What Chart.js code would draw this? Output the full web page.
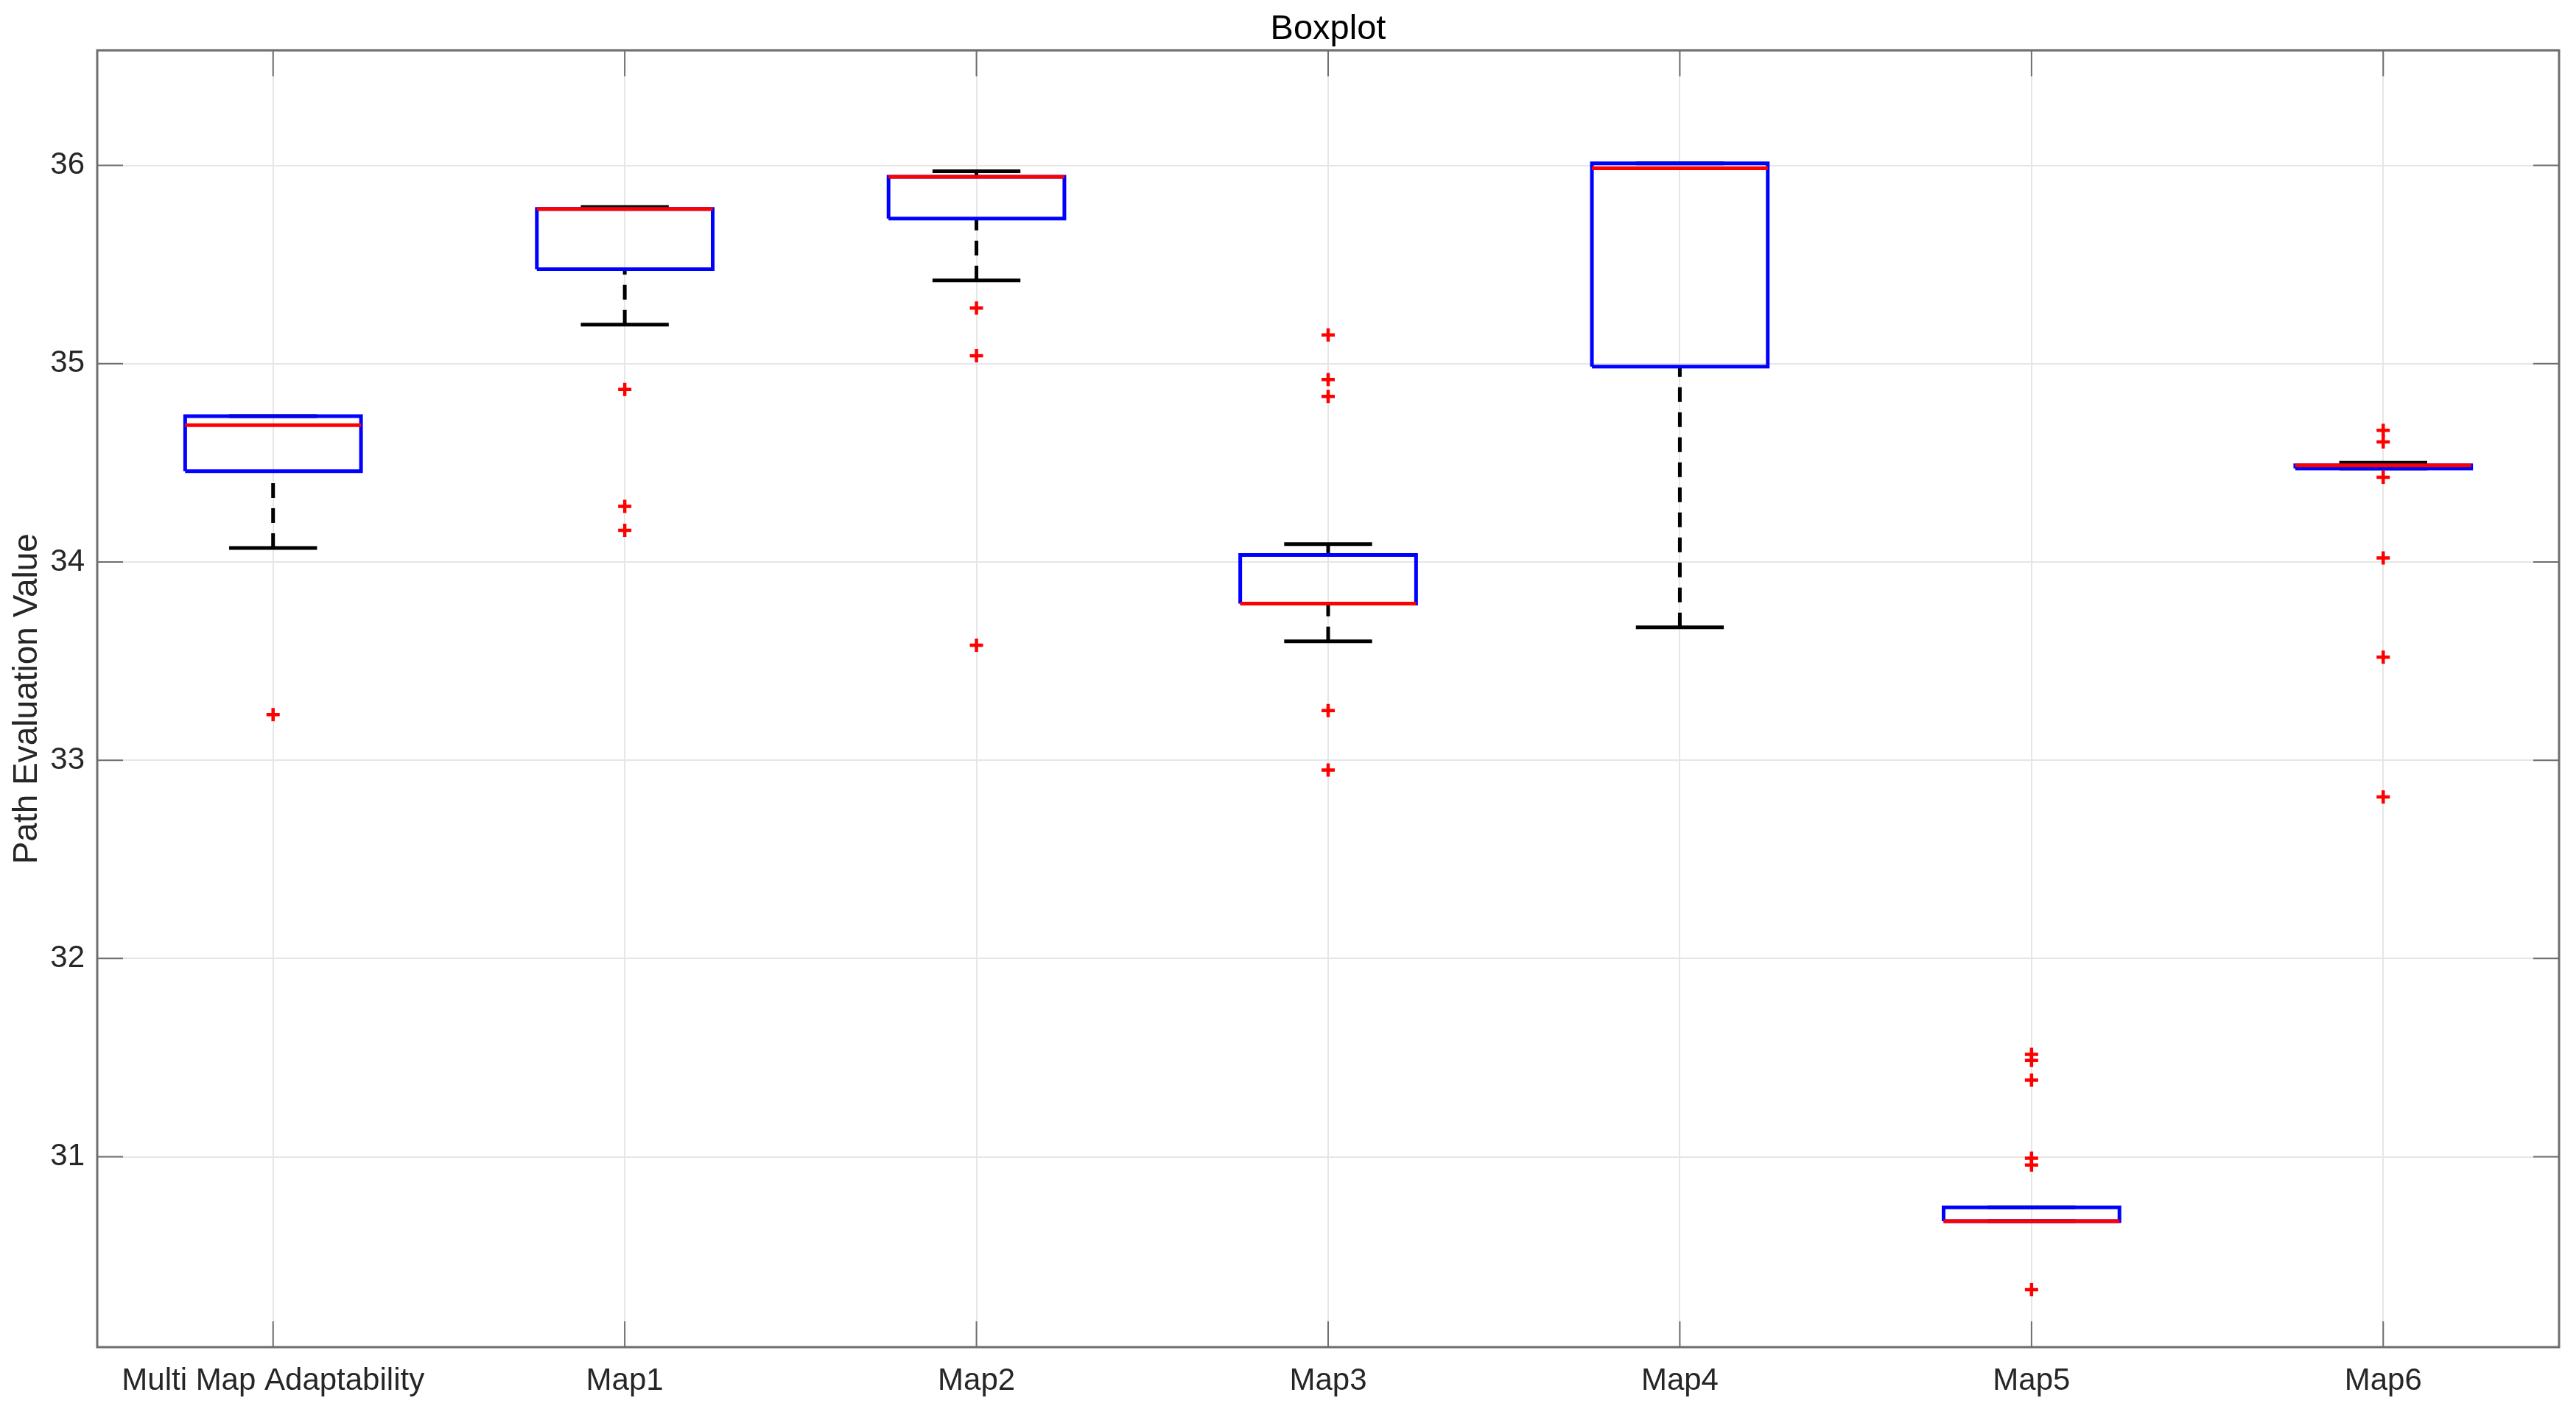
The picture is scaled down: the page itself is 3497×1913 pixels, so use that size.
<!DOCTYPE html>
<html>
<head>
<meta charset="utf-8">
<title>Boxplot</title>
<style>
  html, body { margin: 0; padding: 0; background: #fff; }
  canvas { display: block; }
</style>
<script src="https://cdn.jsdelivr.net/npm/chart.js@4"></script>
</head>
<body>
<canvas id="boxChart" width="3497" height="1913"></canvas>
<script>
const categories = ["Multi Map Adaptability", "Map1", "Map2", "Map3", "Map4", "Map5", "Map6"]
const yTicks = [31, 32, 33, 34, 35, 36]

const q1 = [34.458, 35.476, 35.732, 33.79, 34.985, 30.675, 34.472]
const median = [34.69, 35.78, 35.943, 33.79, 35.985, 30.675, 34.487]
const q3 = [34.735, 35.78, 35.943, 34.035, 36.01, 30.745, 34.487]
const lowerWhisker = [34.07, 35.197, 35.42, 33.6, 33.67, 30.675, 34.472]
const upperWhisker = [34.735, 35.79, 35.97, 34.09, 36.01, 30.745, 34.5]
const outliers = [
  [33.23],
  [34.87, 34.28, 34.16],
  [35.28, 35.04, 33.58],
  [35.145, 34.92, 34.835, 33.25, 32.95],
  [],
  [31.517, 31.486, 31.387, 30.993, 30.958, 30.33],
  [34.664, 34.605, 34.427, 34.02, 33.52, 32.815]
]

const boxHalf = 0.25
const capHalf = 0.125
const axisColor = "#6e6e6e"
const textColor = "#262626"

// x position of category i on the linear axis
const pos = i => i + 1
const gap = x => ({ x: x, y: null })

const boxPoints = categories.flatMap((c, i) => [
  { x: pos(i) - boxHalf, y: q1[i] },
  { x: pos(i) + boxHalf, y: q1[i] },
  { x: pos(i) + boxHalf, y: q3[i] },
  { x: pos(i) - boxHalf, y: q3[i] },
  { x: pos(i) - boxHalf, y: q1[i] },
  gap(pos(i))
])
const medianPoints = categories.flatMap((c, i) => [
  { x: pos(i) - boxHalf, y: median[i] },
  { x: pos(i) + boxHalf, y: median[i] },
  gap(pos(i))
])
const whiskerPoints = categories.flatMap((c, i) => [
  { x: pos(i), y: lowerWhisker[i] },
  { x: pos(i), y: q1[i] },
  gap(pos(i)),
  { x: pos(i), y: upperWhisker[i] },
  { x: pos(i), y: q3[i] },
  gap(pos(i))
])
const capPoints = categories.flatMap((c, i) => [
  { x: pos(i) - capHalf, y: lowerWhisker[i] },
  { x: pos(i) + capHalf, y: lowerWhisker[i] },
  gap(pos(i)),
  { x: pos(i) - capHalf, y: upperWhisker[i] },
  { x: pos(i) + capHalf, y: upperWhisker[i] },
  gap(pos(i))
])
const outlierPoints = categories.flatMap((c, i) => outliers[i].map(v => ({ x: pos(i), y: v })))

// MATLAB style frame with ticks pointing inwards
const frame = {
  id: "frame",
  afterDatasetsDraw(chart) {
    const { ctx, chartArea: a, scales } = chart
    const len = 35
    ctx.save()
    ctx.strokeStyle = axisColor
    ctx.lineWidth = 2
    ctx.beginPath()
    scales.x.ticks.forEach(t => {
      const px = scales.x.getPixelForValue(t.value)
      ctx.moveTo(px, a.bottom); ctx.lineTo(px, a.bottom - len)
      ctx.moveTo(px, a.top); ctx.lineTo(px, a.top + len)
    })
    scales.y.ticks.forEach(t => {
      const py = scales.y.getPixelForValue(t.value)
      ctx.moveTo(a.left, py); ctx.lineTo(a.left + len, py)
      ctx.moveTo(a.right, py); ctx.lineTo(a.right - len, py)
    })
    ctx.stroke()
    ctx.lineWidth = 3
    ctx.strokeRect(a.left, a.top, a.right - a.left, a.bottom - a.top)
    ctx.restore()
  }
}

new Chart(document.getElementById("boxChart"), {
  type: "scatter",
  plugins: [frame],
  data: {
    datasets: [
      { label: "Outliers", data: outlierPoints, order: 1, showLine: false, pointStyle: "cross", pointRadius: 9, pointBorderWidth: 4.5, pointBorderColor: "#ff0000" },
      { label: "Median", data: medianPoints, order: 2, showLine: true, pointRadius: 0, borderColor: "#ff0000", borderWidth: 5 },
      { label: "Box", data: boxPoints, order: 3, showLine: true, pointRadius: 0, borderColor: "#0000ff", borderWidth: 5 },
      { label: "Caps", data: capPoints, order: 4, showLine: true, pointRadius: 0, borderColor: "#000000", borderWidth: 5 },
      { label: "Whiskers", data: whiskerPoints, order: 5, showLine: true, pointRadius: 0, borderColor: "#000000", borderWidth: 5, borderDash: [20, 14] }
    ]
  },
  options: {
    responsive: false,
    devicePixelRatio: 1,
    animation: false,
    layout: { padding: { right: 23 } },
    plugins: {
      legend: { display: false },
      tooltip: { enabled: false },
      title: {
        display: true,
        text: "Boxplot",
        fullSize: false,
        color: "#000000",
        font: { family: "Liberation Sans", size: 47, weight: "normal" },
        padding: { top: 12, bottom: 0 }
      }
    },
    scales: {
      x: {
        type: "linear",
        min: 0.5,
        max: 7.5,
        afterBuildTicks: s => { s.ticks = categories.map((c, i) => ({ value: pos(i) })) },
        afterFit: s => { s.height = 84 },
        border: { display: false },
        grid: { color: "#e6e6e6", lineWidth: 2, drawTicks: false },
        ticks: {
          autoSkip: false,
          maxRotation: 0,
          padding: 21,
          color: textColor,
          font: { family: "Liberation Sans", size: 42 },
          callback: v => categories[v - 1]
        }
      },
      y: {
        min: 30.04,
        max: 36.58,
        afterBuildTicks: s => { s.ticks = yTicks.map(v => ({ value: v })) },
        afterFit: s => { s.width = 132 },
        border: { display: false },
        grid: { color: "#e6e6e6", lineWidth: 2, drawTicks: false },
        title: {
          display: true,
          text: "Path Evaluation Value",
          color: textColor,
          font: { family: "Liberation Sans", size: 46 },
          padding: { top: 10, bottom: 0 }
        },
        ticks: {
          padding: 17,
          color: textColor,
          font: { family: "Liberation Sans", size: 42 },
          callback: v => String(v)
        }
      }
    }
  }
})
</script>
</body>
</html>
